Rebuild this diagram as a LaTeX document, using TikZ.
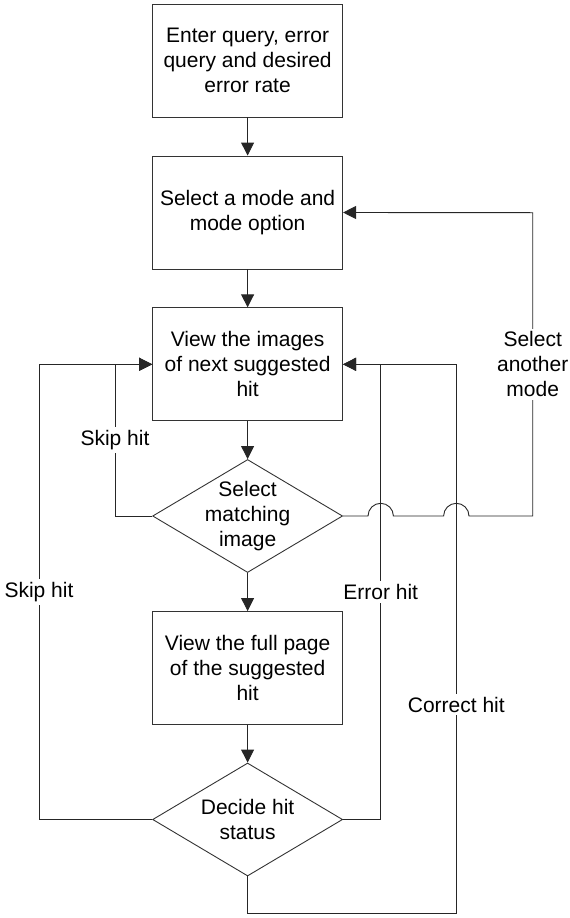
\documentclass[tikz,border=0pt]{standalone}
\usepackage{fontspec}
\setmainfont{Liberation Sans}
\usetikzlibrary{arrows.meta,shapes.geometric}
\begin{document}
\begin{tikzpicture}[x=1pt,y=-1pt,
  every node/.style={font=\fontsize{21}{25}\selectfont},
  box/.style={draw=black!80, line width=0.9pt, minimum width=190pt, minimum height=113pt, align=center, inner sep=0pt},
  dia/.style={draw=black!80, line width=0.9pt, diamond, minimum width=190pt, minimum height=113pt, inner sep=0pt},
  txt/.style={align=center, inner sep=0pt},
  lbl/.style={fill=white, align=center, inner sep=3pt},
  conn/.style={draw=black!85, line width=0.9pt},
  arr/.style={conn, -{Triangle[length=13pt,width=13pt]}}
]
\useasboundingbox (0,0) rectangle (570,918);
\node[box] (b1) at (247.6,60.5) {Enter query, error\\query and desired\\error rate};
\node[box] (b2) at (247.6,212.5) {Select a mode and\\mode option};
\node[box] (b3) at (247.6,364.3) {View the images\\of next suggested\\hit};
\node[dia] (d1) at (247.6,516) {};
\node[txt] (d1t) at (d1.center) {Select\\matching\\image};
\node[box] (b4) at (247.6,668) {View the full page\\of the suggested\\hit};
\node[dia] (d2) at (247.6,819.5) {};
\node[txt] (d2t) at (d2.center) {Decide hit\\status};

\draw[arr] (b1) -- (b2);
\draw[arr] (b2) -- (b3);
\draw[arr] (b3) -- (d1);
\draw[arr] (d1) -- (b4);
\draw[arr] (b4) -- (d2);

\draw[arr] (d1.west) -- (115,516) |- node[lbl,pos=0.25]{Skip hit} (b3.west);
\draw[arr] (d2.west) -- (39,819.5) |- node[lbl,pos=0.25]{Skip hit} (b3.west);
\draw[arr] (d2.east) -- (380.7,819.5) |- node[lbl,pos=0.25]{Error hit} (b3.east);
\draw[arr] (d2.south) |- (456.3,913) -- node[lbl,pos=0.38]{Correct hit} (456.3,364.3) -- (b3.east);
\draw[arr] (d1.east) -- (368,516) arc[start angle=180,end angle=360,radius=12.7]
  -- (443.6,516) arc[start angle=180,end angle=360,radius=12.7]
  -- (532.7,516) -- node[lbl]{Select\\another\\mode} (532.7,212.7) -- (b2.east);
\end{tikzpicture}
\end{document}
